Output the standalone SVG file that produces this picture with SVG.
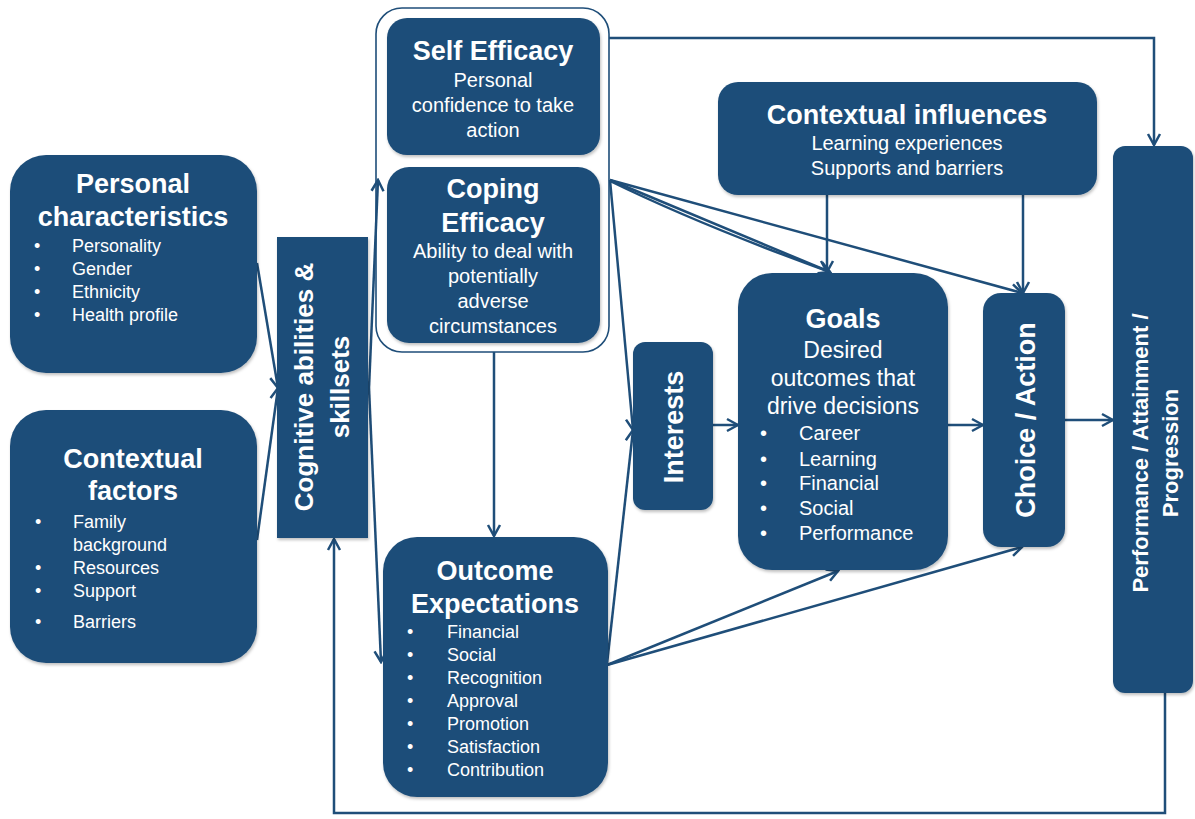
<svg xmlns="http://www.w3.org/2000/svg" width="1195" height="819" viewBox="0 0 1195 819">
<defs>
<marker id="arr" markerUnits="userSpaceOnUse" markerWidth="16" markerHeight="16" viewBox="0 0 16 16" refX="14" refY="8" orient="auto">
<path d="M3,2 L14,8 L3,14" fill="none" stroke="#1f4e79" stroke-width="2.5" stroke-linejoin="miter"/>
</marker>
<filter id="sh" x="-10%" y="-10%" width="120%" height="120%">
<feDropShadow dx="1" dy="2" stdDeviation="1.5" flood-color="#000" flood-opacity="0.25"/>
</filter>
</defs>
<style>
.box{fill:#1f4e79;filter:url(#sh);}
.t{fill:#fff;font-family:"Liberation Sans",Arial,sans-serif;}
.h{font-weight:bold;font-size:27px;text-anchor:middle;}
.s{font-size:20px;text-anchor:middle;}
.b{font-size:18px;}
.c{fill:none;stroke:#1f4e79;stroke-width:2.5;}
</style>
<rect width="1195" height="819" fill="#fff"/>

<g id="efficacy-group">
<rect x="376" y="8" width="233" height="344" rx="26" fill="#fff" stroke="#1f4e79" stroke-width="1.6"/>
</g>

<g id="connectors">
<line class="c" x1="257" y1="263" x2="278" y2="388" marker-end="url(#arr)"/>
<line class="c" x1="257" y1="540" x2="278" y2="388" marker-end="url(#arr)"/>
<line class="c" x1="369" y1="388" x2="378" y2="180" marker-end="url(#arr)"/>
<line class="c" x1="369" y1="388" x2="381" y2="662" marker-end="url(#arr)"/>
<line class="c" x1="494" y1="352" x2="494" y2="536" marker-end="url(#arr)"/>
<polyline class="c" points="609,38 1154,38 1154,145" marker-end="url(#arr)"/>
<line class="c" x1="610" y1="180" x2="830" y2="272" marker-end="url(#arr)"/>
<path class="c" d="M610,181 Q700,225 830,272"/>
<line class="c" x1="610" y1="180" x2="1022" y2="293" marker-end="url(#arr)"/>
<line class="c" x1="610" y1="180" x2="633" y2="430" marker-end="url(#arr)"/>
<line class="c" x1="607" y1="664" x2="633" y2="430" marker-end="url(#arr)"/>
<line class="c" x1="713" y1="425" x2="738" y2="425" marker-end="url(#arr)"/>
<line class="c" x1="948" y1="425" x2="983" y2="425" marker-end="url(#arr)"/>
<line class="c" x1="1065" y1="420" x2="1113" y2="420" marker-end="url(#arr)"/>
<line class="c" x1="827" y1="195" x2="827" y2="272" marker-end="url(#arr)"/>
<line class="c" x1="1023" y1="195" x2="1023" y2="293" marker-end="url(#arr)"/>
<line class="c" x1="607" y1="665" x2="838" y2="571" marker-end="url(#arr)"/>
<line class="c" x1="607" y1="665" x2="1022" y2="547" marker-end="url(#arr)"/>
<polyline class="c" points="1165,693 1165,813 334,813 334,539" marker-end="url(#arr)"/>
</g>

<g id="personal">
<rect class="box" x="10" y="155" width="247" height="218" rx="36"/>
<text class="t h" x="133" y="193">Personal</text>
<text class="t h" x="133" y="226">characteristics</text>
<g class="t b">
<text x="34" y="252">•</text><text x="72" y="252">Personality</text>
<text x="34" y="275">•</text><text x="72" y="275">Gender</text>
<text x="34" y="298">•</text><text x="72" y="298">Ethnicity</text>
<text x="34" y="321">•</text><text x="72" y="321">Health profile</text>
</g>
</g>

<g id="contextual-factors">
<rect class="box" x="10" y="410" width="247" height="253" rx="36"/>
<text class="t h" x="133" y="468">Contextual</text>
<text class="t h" x="133" y="500">factors</text>
<g class="t b">
<text x="35" y="528">•</text><text x="73" y="528">Family</text>
<text x="73" y="551">background</text>
<text x="35" y="574">•</text><text x="73" y="574">Resources</text>
<text x="35" y="597">•</text><text x="73" y="597">Support</text>
<text x="35" y="628">•</text><text x="73" y="628">Barriers</text>
</g>
</g>

<g id="cognitive">
<rect class="box" x="277" y="237" width="91" height="301"/>
<text class="t h" transform="translate(322,387) rotate(-90)" style="font-size:26px"><tspan x="0" y="-9">Cognitive abilities &amp;</tspan><tspan x="0" y="27">skillsets</tspan></text>
</g>

<g id="self-efficacy">
<rect class="box" x="387" y="18" width="213" height="137" rx="20"/>
<text class="t h" x="493" y="60">Self Efficacy</text>
<text class="t s" x="493" y="87">Personal</text>
<text class="t s" x="493" y="112">confidence to take</text>
<text class="t s" x="493" y="137">action</text>
</g>

<g id="coping-efficacy">
<rect class="box" x="387" y="167" width="213" height="176" rx="22"/>
<text class="t h" x="493" y="198">Coping</text>
<text class="t h" x="493" y="232">Efficacy</text>
<text class="t s" x="493" y="258">Ability to deal with</text>
<text class="t s" x="493" y="283">potentially</text>
<text class="t s" x="493" y="308">adverse</text>
<text class="t s" x="493" y="333">circumstances</text>
</g>

<g id="outcome-expectations">
<rect class="box" x="383" y="537" width="225" height="260" rx="34"/>
<text class="t h" x="495" y="580">Outcome</text>
<text class="t h" x="495" y="613">Expectations</text>
<g class="t b">
<text x="407" y="638">•</text><text x="447" y="638">Financial</text>
<text x="407" y="661">•</text><text x="447" y="661">Social</text>
<text x="407" y="684">•</text><text x="447" y="684">Recognition</text>
<text x="407" y="707">•</text><text x="447" y="707">Approval</text>
<text x="407" y="730">•</text><text x="447" y="730">Promotion</text>
<text x="407" y="753">•</text><text x="447" y="753">Satisfaction</text>
<text x="407" y="776">•</text><text x="447" y="776">Contribution</text>
</g>
</g>

<g id="contextual-influences">
<rect class="box" x="718" y="82" width="379" height="113" rx="20"/>
<text class="t h" x="907" y="124">Contextual influences</text>
<text class="t s" x="907" y="150">Learning experiences</text>
<text class="t s" x="907" y="175">Supports and barriers</text>
</g>

<g id="interests">
<rect class="box" x="633" y="342" width="80" height="168" rx="12"/>
<text class="t h" transform="translate(673,427) rotate(-90)" x="0" y="10">Interests</text>
</g>

<g id="goals">
<rect class="box" x="738" y="273" width="210" height="297" rx="34"/>
<text class="t h" x="843" y="328">Goals</text>
<text class="t s" x="843" y="358" style="font-size:23px">Desired</text>
<text class="t s" x="843" y="386" style="font-size:23px">outcomes that</text>
<text class="t s" x="843" y="414" style="font-size:23px">drive decisions</text>
<g class="t b" style="font-size:20px">
<text x="760" y="440">•</text><text x="799" y="440">Career</text>
<text x="760" y="466">•</text><text x="799" y="466">Learning</text>
<text x="760" y="490">•</text><text x="799" y="490">Financial</text>
<text x="760" y="515">•</text><text x="799" y="515">Social</text>
<text x="760" y="540">•</text><text x="799" y="540">Performance</text>
</g>
</g>

<g id="choice-action">
<rect class="box" x="983" y="293" width="82" height="254" rx="18"/>
<text class="t h" transform="translate(1025,420) rotate(-90)" x="0" y="10">Choice / Action</text>
</g>

<g id="performance">
<rect class="box" x="1113" y="146" width="80" height="547" rx="12"/>
<text class="t h" transform="translate(1153,453) rotate(-90)" style="font-size:22px"><tspan x="0" y="-5">Performance / Attainment /</tspan><tspan x="0" y="25">Progression</tspan></text>
</g>
</svg>
